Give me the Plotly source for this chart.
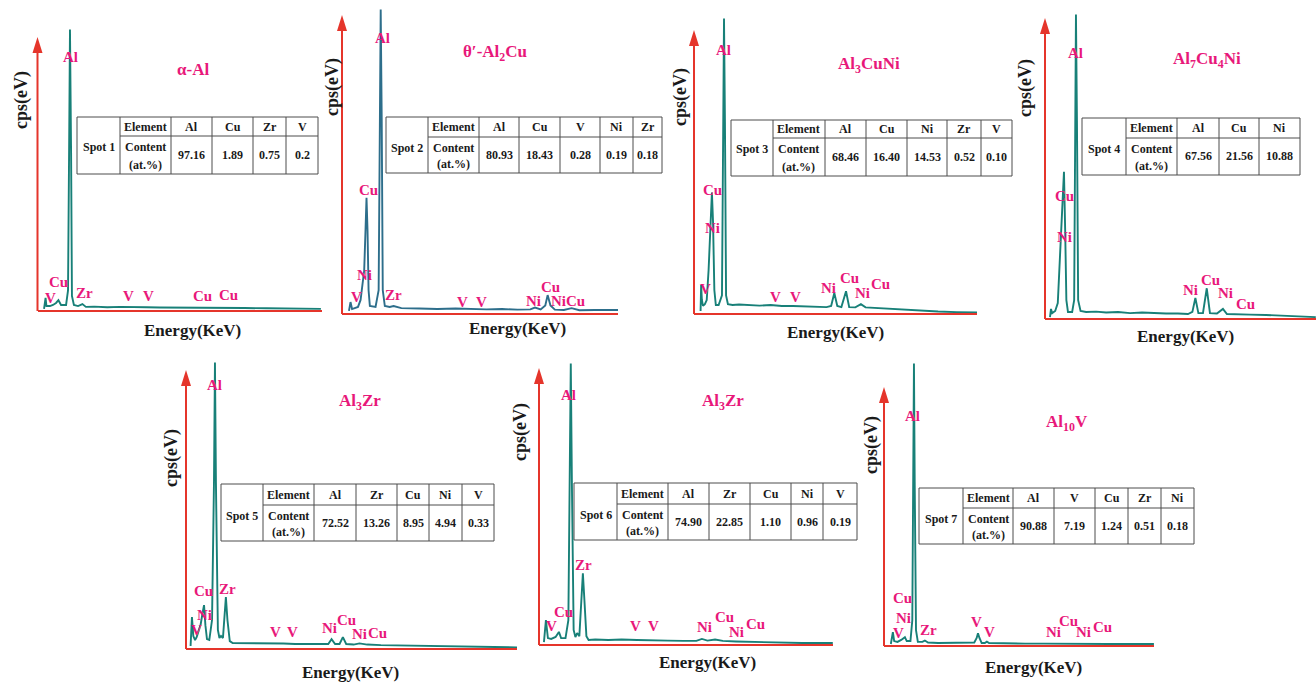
import plotly.graph_objects as go

W, H = 1316, 683

# ======================= DATA =======================
phase_titles = ["α-Al", "θ′-Al<sub>2</sub>Cu", "Al<sub>3</sub>CuNi", "Al<sub>7</sub>Cu<sub>4</sub>Ni",
                "Al<sub>3</sub>Zr", "Al<sub>3</sub>Zr", "Al<sub>10</sub>V"]
spot_names = ["Spot 1", "Spot 2", "Spot 3", "Spot 4", "Spot 5", "Spot 6", "Spot 7"]

table_elements = [
    ["Al", "Cu", "Zr", "V"],
    ["Al", "Cu", "V", "Ni", "Zr"],
    ["Al", "Cu", "Ni", "Zr", "V"],
    ["Al", "Cu", "Ni"],
    ["Al", "Zr", "Cu", "Ni", "V"],
    ["Al", "Zr", "Cu", "Ni", "V"],
    ["Al", "V", "Cu", "Zr", "Ni"],
]
table_contents = [
    ["97.16", "1.89", "0.75", "0.2"],
    ["80.93", "18.43", "0.28", "0.19", "0.18"],
    ["68.46", "16.40", "14.53", "0.52", "0.10"],
    ["67.56", "21.56", "10.88"],
    ["72.52", "13.26", "8.95", "4.94", "0.33"],
    ["74.90", "22.85", "1.10", "0.96", "0.19"],
    ["90.88", "7.19", "1.24", "0.51", "0.18"],
]

peak_labels = [
    ["Al", "Cu", "V", "Zr", "V", "V", "Cu", "Cu"],
    ["Al", "Cu", "Ni", "V", "Zr", "V", "V", "Ni", "Cu", "NiCu"],
    ["Al", "Cu", "Ni", "V", "V", "V", "Ni", "Cu", "Ni", "Cu"],
    ["Al", "Cu", "Ni", "Ni", "Cu", "Ni", "Cu"],
    ["Al", "Cu", "Zr", "Ni", "V", "V", "V", "Ni", "Cu", "Ni", "Cu"],
    ["Al", "Zr", "Cu", "V", "V", "V", "Ni", "Cu", "Ni", "Cu"],
    ["Al", "Cu", "Ni", "V", "Zr", "V", "V", "Ni", "Cu", "Ni", "Cu"],
]

# EDS spectra: energy (keV) and intensity (% of Al K-alpha peak)
energy_1 = [0.30, 0.37, 0.41, 0.57, 0.71, 0.85, 0.96, 1.08, 1.31, 1.40, 1.45, 1.49, 1.54, 1.58, 1.67,
            1.86, 2.06, 2.22, 2.6, 3.2, 3.8, 4.5, 5.0, 5.6, 6.3, 7.0, 7.8, 8.1, 8.6, 9.5, 10.5, 11.5, 12.5, 13.0]
counts_1 = [0.4, 4.3, 1.4, 1.4, 1.8, 2.5, 3.5, 1.8, 1.8, 7.0, 57, 100, 57, 5.0, 1.8,
            1.4, 2.1, 1.1, 1.2, 1.0, 1.1, 0.9, 1.0, 0.9, 0.9, 0.8, 0.8, 0.9, 0.7, 0.7, 0.6, 0.5, 0.4, 0.4]

energy_2 = [0.27, 0.33, 0.39, 0.50, 0.62, 0.72, 0.80, 0.86, 0.91, 0.95, 0.99, 1.03, 1.08, 1.30, 1.42,
            1.46, 1.50, 1.54, 1.58, 1.66, 1.85, 2.00, 2.10, 2.30, 3.0, 3.7, 4.4, 5.0, 5.6, 6.2, 6.8, 7.3,
            7.48, 7.7, 7.88, 7.97, 8.08, 8.25, 8.6, 8.9, 9.2, 9.8, 10.3, 10.7]
counts_2 = [0.7, 3.6, 1.3, 1.6, 2.0, 4.3, 9.2, 14, 27, 38, 27, 7.5, 2.3, 2.0, 7.5,
            63, 100, 63, 7.5, 2.3, 2.0, 2.3, 2.1, 1.6, 1.5, 1.3, 1.5, 1.3, 1.2, 1.3, 1.1, 1.2,
            1.8, 1.2, 2.5, 5.9, 2.5, 1.1, 1.0, 1.6, 0.9, 1.0, 0.9, 1.0]

energy_3 = [0.23, 0.26, 0.30, 0.36, 0.46, 0.56, 0.66, 0.74, 0.84, 0.90, 0.97, 1.05, 1.20, 1.38, 1.44,
            1.49, 1.54, 1.60, 1.70, 1.95, 2.3, 2.8, 3.4, 4.0, 4.6, 5.2, 5.8, 6.4, 7.0, 7.25, 7.42, 7.58,
            7.80, 8.05, 8.22, 8.55, 8.85, 9.1, 9.6, 10.2, 11.0, 12.0, 13.0, 14.0, 15.1]
counts_3 = [0.7, 9.5, 4.4, 2.4, 3.0, 4.4, 14.5, 28.7, 40.9, 31, 7.8, 2.7, 2.7, 6.0, 65,
            100, 65, 6.0, 3.0, 2.7, 2.9, 2.7, 2.5, 2.7, 2.4, 2.4, 2.2, 2.0, 2.0, 2.4, 6.8, 2.4,
            2.0, 7.4, 2.0, 1.9, 3.0, 1.9, 1.7, 1.5, 1.2, 0.8, 0.5, 0.3, 0.2]

energy_4 = [0.19, 0.24, 0.30, 0.45, 0.58, 0.66, 0.74, 0.82, 0.89, 0.95, 1.01, 1.09, 1.30, 1.40, 1.45,
            1.49, 1.54, 1.60, 1.72, 2.0, 2.5, 3.0, 3.6, 4.2, 4.8, 5.4, 6.0, 6.6, 7.1, 7.32, 7.47, 7.62,
            7.85, 8.04, 8.20, 8.55, 8.85, 9.05, 9.5, 10.2, 11.0, 12.0, 13.0, 13.5]
counts_4 = [0.3, 3.0, 1.6, 2.3, 4.9, 15.7, 26.6, 38.7, 48.2, 29, 5.9, 2.0, 2.0, 5.9, 65,
            100, 65, 5.9, 2.3, 2.0, 2.1, 1.8, 2.0, 1.6, 1.8, 1.6, 1.5, 1.5, 1.3, 2.0, 6.6, 1.6,
            1.6, 9.8, 1.6, 1.5, 3.0, 1.3, 1.3, 1.1, 1.0, 0.7, 0.5, 0.3]

energy_5 = [0.24, 0.31, 0.38, 0.47, 0.55, 0.65, 0.75, 0.86, 0.93, 1.00, 1.08, 1.20, 1.34, 1.44, 1.49,
            1.54, 1.64, 1.72, 1.80, 1.90, 1.98, 2.05, 2.13, 2.25, 2.4, 3.0, 3.6, 4.3, 5.0, 5.6, 6.3,
            7.0, 7.3, 7.47, 7.65, 7.88, 8.05, 8.22, 8.6, 8.9, 9.3, 10.0, 11.0, 12.0, 13.0, 14.0, 15.0, 17.0]
counts_5 = [0.7, 10.8, 4.2, 2.8, 3.8, 5.6, 8.0, 12.5, 15, 8.0, 3.1, 2.8, 9.8, 58, 100,
            58, 6.3, 3.5, 4.2, 3.5, 9.8, 17.8, 9.8, 2.4, 1.7, 1.7, 1.6, 1.7, 1.6, 1.4, 1.4,
            1.2, 1.4, 3.1, 1.4, 1.4, 3.8, 1.4, 1.2, 1.6, 1.2, 1.0, 0.9, 0.7, 0.5, 0.35, 0.35, 0.2]

energy_6 = [0.27, 0.36, 0.45, 0.60, 0.80, 0.95, 1.05, 1.25, 1.38, 1.44, 1.49, 1.54, 1.62, 1.70, 1.78,
            1.88, 1.97, 2.04, 2.11, 2.20, 2.30, 2.6, 3.2, 3.8, 4.5, 5.2, 5.9, 6.6, 7.2, 7.45, 7.7,
            8.05, 8.4, 9.0, 10.0, 11.0, 12.0, 13.4]
counts_6 = [0.7, 8.5, 2.1, 1.8, 2.5, 4.3, 2.1, 2.1, 8.5, 58, 100, 58, 5.0, 2.5, 3.9,
            2.8, 15.6, 25.2, 15.6, 2.8, 1.4, 1.6, 1.4, 1.6, 1.4, 1.2, 1.2, 1.1, 1.1, 1.8, 1.2,
            1.6, 1.1, 0.9, 0.7, 0.5, 0.35, 0.35]

energy_7 = [0.24, 0.35, 0.42, 0.60, 0.80, 1.00, 1.10, 1.30, 1.40, 1.45, 1.49, 1.53, 1.60, 1.70, 1.95,
            2.08, 2.25, 2.8, 3.5, 4.2, 4.75, 4.88, 4.95, 5.03, 5.15, 5.32, 5.43, 5.55, 6.5, 7.5, 8.5,
            10.0, 12.0, 14.46]
counts_7 = [0.35, 4.6, 1.4, 1.1, 1.8, 2.8, 1.4, 1.4, 8.8, 58, 100, 58, 5.3, 1.1, 1.1,
            1.6, 0.9, 0.7, 0.7, 0.7, 0.9, 2.5, 4.2, 2.5, 0.7, 0.7, 1.2, 0.7, 0.5, 0.5, 0.5,
            0.35, 0.35, 0.35]

spectra = [(energy_1, counts_1), (energy_2, counts_2), (energy_3, counts_3), (energy_4, counts_4),
           (energy_5, counts_5), (energy_6, counts_6), (energy_7, counts_7)]

# ======================= LAYOUT / STYLE =======================
RED = "#e5352b"
TEAL = "#188078"
BLUE_TEAL = "#2d6e8b"
PINK = "#e8187a"
BORDER = "#4d4d4d"
TXT = "#1a1a1a"
FONT = "Liberation Serif"
line_colors = [TEAL, BLUE_TEAL, TEAL, TEAL, TEAL, TEAL, TEAL]

# per panel: y-axis x px, baseline y px, x-axis end px, Al-peak top px, arrow tip px, zero-keV px, px per keV
panel_geom = [
    (37.5, 310, 322, 28, 37, 37.5, 21.8),
    (342, 313, 618, 8, 15, 342, 25.8),
    (694, 313, 977, 17, 30, 696.3, 18.6),
    (1045, 318, 1316, 13, 18, 1046.2, 19.97),
    (186, 648, 517, 361, 370, 185.9, 19.5),
    (539, 644, 833, 362, 368, 538, 22.0),
    (884, 645, 1154, 362, 387, 886.4, 18.5),
]
title_pos = [(193, 69), (495, 53), (869, 65), (1207, 60), (360, 402), (723, 402), (1067, 423)]
cps_pos = [(21, 100), (333, 87), (680, 97), (1025, 88), (171, 458), (520, 432), (871, 445)]
energy_pos = [(192, 330), (517, 328), (835, 332), (1185, 337), (350, 672), (707, 662), (1033, 667)]
label_pos = [
    [(70, 57), (58, 282), (50, 298), (84, 293), (128, 296), (148, 296), (202, 296), (228, 295)],
    [(382, 38), (368, 190), (365, 275), (357, 297), (393, 295), (463, 302), (481, 302), (533, 301),
     (550, 287), (568, 301)],
    [(723, 50), (712, 190), (712, 228), (705, 289), (775, 297), (795, 297), (828, 288), (849, 278),
     (862, 293), (880, 284)],
    [(1075, 53), (1064, 196), (1064, 237), (1190, 290), (1210, 280), (1225, 293), (1245, 304)],
    [(214, 385), (203, 591), (227, 589), (204, 615), (196, 630), (275, 632), (292, 632), (329, 628),
     (346, 620), (359, 634), (377, 633)],
    [(568, 395), (583, 565), (563, 612), (551, 626), (635, 626), (653, 626), (704, 627), (724, 617),
     (736, 632), (755, 624)],
    [(912, 416), (902, 598), (903, 618), (898, 633), (928, 630), (976, 622), (990, 632), (1053, 632),
     (1068, 621), (1083, 632), (1102, 627)],
]
table_cols = [
    [77, 120, 171, 212, 253, 286, 318],
    [386, 428, 479, 519, 560, 600, 633, 662],
    [731, 773, 825, 866, 907, 947, 981, 1012],
    [1082, 1126, 1177, 1219, 1259, 1300],
    [221, 263, 314, 356, 397, 429, 462, 494],
    [574, 617, 668, 709, 750, 791, 823, 857],
    [919, 963, 1013, 1054, 1095, 1128, 1161, 1194],
]
table_rows = [
    [117, 136, 174], [117, 137, 173], [120, 138, 176], [118, 138, 175],
    [484, 505, 541], [483, 504, 540], [488, 508, 544],
]


def X(px):
    return px / W


def Y(py):
    return 1 - py / H


fig = go.Figure()
layout = dict(width=W, height=H, margin=dict(l=0, r=0, t=0, b=0), paper_bgcolor="white",
              plot_bgcolor="rgba(0,0,0,0)", showlegend=False)
shapes = []
annotations = []


def ann(text, px, py, size, color=TXT, **kw):
    d = dict(text=text, x=X(px), y=Y(py), xref="paper", yref="paper", showarrow=False,
             xanchor="center", yanchor="middle", font=dict(family=FONT, size=size, color=color))
    d.update(kw)
    annotations.append(d)


for i, (E, I) in enumerate(spectra):
    sfx = "" if i == 0 else str(i + 1)
    xa, yb, xe, yt, tip, z, s = panel_geom[i]
    fig.add_trace(go.Scatter(x=E, y=I, mode="lines", line=dict(color=line_colors[i], width=1.9),
                             xaxis="x" + sfx, yaxis="y" + sfx, hoverinfo="skip", showlegend=False))
    layout["xaxis" + sfx] = dict(domain=[X(xa), X(xe)], range=[(xa - z) / s, (xe - z) / s],
                                 anchor="y" + sfx, showline=True, linecolor=RED, linewidth=2,
                                 showgrid=False, zeroline=False, showticklabels=False, ticks="",
                                 fixedrange=True)
    layout["yaxis" + sfx] = dict(domain=[Y(yb), Y(yt)], range=[0, 100.5], anchor="x" + sfx,
                                 showline=False, showgrid=False, zeroline=False,
                                 showticklabels=False, ticks="", fixedrange=True)
    # vertical axis with arrow head
    base = tip + 16
    shapes.append(dict(type="line", xref="paper", yref="paper", x0=X(xa), x1=X(xa), y0=Y(yb + 1),
                       y1=Y(base - 1), line=dict(color=RED, width=2)))
    shapes.append(dict(type="path", xref="paper", yref="paper",
                       path=f"M {X(xa - 5)},{Y(base)} L {X(xa)},{Y(tip)} L {X(xa + 5)},{Y(base)} Z",
                       fillcolor=RED, line=dict(width=0)))

    # axis titles and phase title
    ann("<b>cps(eV)</b>", cps_pos[i][0], cps_pos[i][1], 18, textangle=-90)
    ann("<b>Energy(KeV)</b>", energy_pos[i][0], energy_pos[i][1], 17)
    ann("<b>" + phase_titles[i] + "</b>", title_pos[i][0], title_pos[i][1], 17, PINK)

    # peak labels
    for lab, (px, py) in zip(peak_labels[i], label_pos[i]):
        ann("<b>" + lab + "</b>", px, py, 15, PINK)

    # table
    cols = table_cols[i]
    r0, r1, r2 = table_rows[i]
    shapes.append(dict(type="rect", xref="paper", yref="paper", x0=X(cols[0]), x1=X(cols[-1]),
                       y0=Y(r2), y1=Y(r0), line=dict(color=BORDER, width=1), fillcolor="white",
                       layer="above"))
    for c in cols[1:-1]:
        shapes.append(dict(type="line", xref="paper", yref="paper", x0=X(c), x1=X(c), y0=Y(r2),
                           y1=Y(r0), line=dict(color=BORDER, width=1)))
    shapes.append(dict(type="line", xref="paper", yref="paper", x0=X(cols[1]), x1=X(cols[-1]),
                       y0=Y(r1), y1=Y(r1), line=dict(color=BORDER, width=1)))
    hdr_y = (r0 + r1) / 2
    val_y = (r1 + r2) / 2
    c1_y = r1 + (r2 - r1) * 0.30
    c2_y = r1 + (r2 - r1) * 0.76
    ann("<b>" + spot_names[i] + "</b>", (cols[0] + cols[1]) / 2, c1_y, 12)
    ann("<b>Element</b>", (cols[1] + cols[2]) / 2, hdr_y, 12)
    ann("<b>Content</b>", (cols[1] + cols[2]) / 2, c1_y, 12)
    ann("<b>(at.%)</b>", (cols[1] + cols[2]) / 2, c2_y, 12)
    for k, (el, val) in enumerate(zip(table_elements[i], table_contents[i])):
        cx = (cols[k + 2] + cols[k + 3]) / 2
        ann("<b>" + el + "</b>", cx, hdr_y, 12)
        ann("<b>" + val + "</b>", cx, val_y, 12)

layout["shapes"] = shapes
layout["annotations"] = annotations
fig.update_layout(**layout)

fig.write_html("out.html", config={"displayModeBar": False},
               post_script="document.body.style.margin='0';document.body.style.overflow='hidden';")
